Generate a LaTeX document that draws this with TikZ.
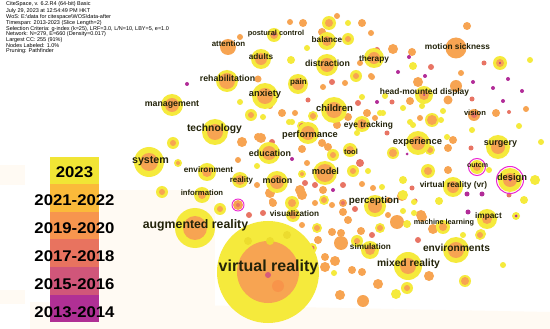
\documentclass[tikz,border=0pt]{standalone}
\usepackage{fontspec}
\setmainfont{Liberation Sans}
\usetikzlibrary{backgrounds}
\definecolor{ylw}{RGB}{245,234,60}
\definecolor{ylwd}{RGB}{236,220,46}
\definecolor{org}{RGB}{247,164,82}
\definecolor{sal}{RGB}{232,116,100}
\definecolor{pnk}{RGB}{214,92,124}
\definecolor{mag}{RGB}{178,44,152}
\definecolor{ringc}{RGB}{236,40,210}
\definecolor{labc}{RGB}{35,35,10}
\definecolor{edgec}{RGB}{226,130,172}
\definecolor{cream}{RGB}{255,250,243}
\definecolor{cA}{RGB}{241,229,53}
\definecolor{cB}{RGB}{251,186,58}
\definecolor{cC}{RGB}{247,149,78}
\definecolor{cD}{RGB}{232,115,95}
\definecolor{cE}{RGB}{208,86,122}
\definecolor{cF}{RGB}{176,48,149}
\newcommand{\fsz}[1]{\fontsize{#1}{#1}\selectfont}
\newcommand{\kw}[6]{%
  \pgfmathsetmacro{\dd}{2*#4}%
  \node[kwc, minimum size=\dd pt] (#1) at (#2,#3) {};%
  \fill[#6] (#1.center) circle (#5pt);%
}
\tikzset{
  kwc/.style={circle, fill=ylw, inner sep=0pt},
  lab/.style={text=labc, inner sep=0pt},
  link/.style={draw=edgec, line width=0.35pt, opacity=0.5},
  hdr/.style={anchor=west, inner sep=0pt, font=\fsz{5.5}, text=black},
  band/.style={inner sep=0pt, minimum width=49pt, minimum height=27.6pt},
  yrlab/.style={inner sep=0pt, font=\bfseries\fsz{15.5}, xscale=1.08, text=black},
}
\begin{document}
\begin{tikzpicture}[x=1pt,y=-1pt]
\useasboundingbox (0,0) rectangle (550,329);
\clip (0,0) rectangle (550,329);
\fill[white] (0,0) rectangle (550,329);
% faint watermark areas
\fill[cream] (100,190) rectangle (215,329);
\fill[cream] (0,165) rectangle (25,185);
\fill[cream] (0,290) rectangle (25,304);
\fill[cream] (30,302) -- (550,312) -- (550,329) -- (30,329) -- cycle;

% ---------- small unlabeled circles ----------
\foreach \x/\y/\r in {303/23/4,337/16/3,362/23/4,371/33/3,322/32/4,258/79/3.5,323/87/3,345/83/3,372/77/3,270/106/3,393/49/5,412/52/4,418/82/5,461/73/3,456/86/6,410/101/4,448/100/4.5,420/118/3,496/113/4,526/109/3,453/140/4,448/148/4,375/118/3,448/170/4,422/217/5,433/229/5,429/276/5,378/284/5,363/301/6,340/295/5,362/272/4,352/270/4,335/261/5,325/257/4,325/267/5,341/243/7,318/240/4,332/232/4,341/233/4,361/231/4,348/220/4,343/212/4,397/222/7,388/215/3,421/215/5,302/195/5,315/203/3,332/205/3,362/184/3,373/188/3,273/203/4,302/225/3,242/142/5,261/138/5,238/160/3,282/113/4,295/113/3,302/149/4,307/163/3,322/143/4,328/147/4,323/190/4,348/117/4,337/125/4,270/193/5,300/190/5,272/201/3,257/185/3,360/63/3,378/64/3,371/76/3,367/113/4,258/137/4,402/196/5,388/200/3,465/281/5,343/203/4,290/22/3,240/37/3,467/26/4}
  \fill[org] (\x,\y) circle (\r pt);
\foreach \x/\y/\r in {332/82/3,308/100/2.5,377/50/3,431/67/3,484/63/2.5,472/99/2.5,392/102/2.5,509/112/2,471/148/2.5,387/133/2.5,412/188/2.5,509/195/2.5,418/240/3,355/209/3,372/235/3,415/201/2.5,249/215/3,263/213/3,272/142/3,305/183/3,315/185/3,360/163/4,358/103/3,343/185/3,465/281/2,343/203/2}
  \fill[sal] (\x,\y) circle (\r pt);
\foreach \x/\y/\r in {187/84/2,377/102/2,409/57/2,398/72/2,425/76/2,473/82/2,493/88/2,508/79/2,522/91/2,503/101/2,407/154/1.5,467/194/2.5,482/194/2.5,468/212/2.5,292/159/2,333/190/2}
  \fill[mag] (\x,\y) circle (\r pt);
\foreach \x/\y/\r in {348/23/3,307/48/3,291/60/4,362/97/3,240/102/3,413/66/4,385/96/3,403/108/3,422/106/3,443/111/3,441/120/3,519/126/3,472/130/3,447/137/3,413/125/3,383/113/3,489/170/3,535/180/5,524/200/4,439/201/4,414/202/3,403/180/4,403/211/3,481/234/5,463/235/3,503/265/3,396/294/5,334/273/3,407/224/4,414/213/3,403/195/5,382/187/3,257/166/3,289/122/3,263/117/3,368/171/3,357/133/3,380/113/3,410/122/3,292/122/3,541/142/3,530/60/3}
  \fill[ylw] (\x,\y) circle (\r pt);
\foreach \x/\y/\R/\r in {329/23/7/4,348/39/6/3,356/76/6/3,500/63/7/4,432/120/7/5,430/150/5/3,393/153/6/4,428/171/7/4,480/235/5/3,407/288/6/3,357/241/6/3,380/228/5/3,442/226/6/3,317/228/5/3,324/200/5/3,292/203/7/4,220/209/6/3,173/143/6/3,178/163/4/2,162/192/6/3,251/115/6/3,302/174/4/2,353/171/6/3,333/155/6/3,313/116/5/3,465/281/6/4}
  {\fill[ylw] (\x,\y) circle (\R pt); \fill[org] (\x,\y) circle (\r pt);}
\foreach \x/\y/\R/\r in {312/248/5/2.5,302/126/5/3}
  {\fill[ylw] (\x,\y) circle (\R pt); \fill[sal] (\x,\y) circle (\r pt);}
\fill[mag] (500,63) circle (1.2pt);
\fill[ylw] (516,216) circle (4pt); \fill[mag] (516,216) circle (1.5pt);
\fill[org] (238,205) circle (5pt); \fill[sal] (238,205) circle (2pt);
\draw[ringc, line width=0.9pt] (238,205) circle (6pt);

% named points of some small circles (connector ends)
\foreach \n/\x/\y in {s1/341/243,s2/397/222,s3/456/86,s4/393/49,s5/303/23,s6/329/23,s7/500/63,s8/432/120,s9/429/276,s10/363/301,s11/340/295,s12/465/281,s13/535/180,s14/187/84,s15/162/192,s16/173/143,s17/220/209,s18/238/205,s19/242/142,s20/292/203,s21/516/216,s22/522/91,s23/541/142,s24/530/60,s25/467/26,s26/240/37,s27/503/265}
  \coordinate (\n) at (\x,\y);

% ---------- keyword circles ----------
\kw{vr}{268}{272}{51}{31}{org}
\fill[ylwd] (248,241) circle (4pt);
\fill[ylwd] (270,241) circle (4pt);
\fill[ylwd] (287,235) circle (4pt);
\fill[org!90!red] (278,286) circle (6pt);
\fill[pnk] (268,275) circle (3pt);
\kw{ar}{195}{228}{20}{12}{org}
\kw{sys}{149}{162}{15}{9}{org}
\kw{tech}{215}{132}{13}{8}{org}
\kw{mgmt}{172}{105}{11}{7}{org}
\kw{child}{334}{110}{13}{8}{org}
\kw{exp}{418}{143}{12}{7}{org}
\kw{des}{510}{180}{12}{7}{org}
\draw[ringc, line width=1pt] (des) circle (13.5pt);
\fill[mag] (des.center) circle (1.5pt);
\kw{outcm}{477}{167}{7}{4}{org}
\draw[ringc, line width=1pt] (outcm) circle (8.5pt);
\kw{surg}{498}{147}{12}{7}{org}
\kw{model}{325}{173}{12}{9}{org}
\kw{perc}{375}{206}{11}{7}{org}
\kw{mixed}{408}{266}{14}{8}{org}
\kw{envs}{456}{250}{13}{8}{org}
\kw{sim}{370}{250}{9}{5}{org}
\kw{ml}{443}{227}{7}{4}{org}
\kw{impact}{487}{219}{10}{5}{org}
\kw{vrvr}{453}{187}{10}{6}{org}
\node[circle, fill=org, inner sep=0pt, minimum size=12pt] (vision) at (474,115) {};
\fill[sal] (vision.center) circle (3pt);
\kw{hmd}{424}{95}{9}{5}{org}
\fill[mag] (hmd.center) circle (1pt);
\node[circle, fill=org, inner sep=0pt, minimum size=21pt] (ms) at (456,48) {};
\kw{eye}{362}{124}{8}{5}{org}
\kw{tool}{350}{150}{7}{4}{org}
\kw{ther}{374}{58}{10}{6}{org}
\kw{dist}{327}{65}{11}{7}{org}
\kw{bal}{327}{41}{9}{5}{org}
\kw{pain}{298}{84}{10}{6}{org}
\kw{anx}{265}{96}{13}{8}{org}
\kw{rehab}{227}{81}{11}{8}{org}
\kw{adults}{261}{59}{10}{6}{org}
\node[circle, fill=org, inner sep=0pt, minimum size=16pt] (att) at (228,47) {};
\kw{post}{274}{35}{7}{4}{org}
\fill[pnk] (post.center) circle (1.5pt);
\kw{perf}{308}{133}{11}{7}{org}
\kw{edu}{269}{153}{11}{7}{org}
\kw{motion}{277}{182}{11}{7}{org}
\kw{real}{240}{180}{8}{5}{org}
\kw{env}{207}{172}{9}{5}{org}
\kw{info}{202}{195}{8}{4}{org}
\kw{vis}{293}{215}{7}{4}{org}

% ---------- connectors ----------
\begin{pgfonlayer}{background}
\foreach \a/\b in {vr/ar,vr/model,vr/perc,vr/mixed,vr/motion,vr/vis,vr/sim,vr/edu,vr/child,vr/anx,vr/exp,vr/tech,vr/sys,vr/envs,vr/des,vr/hmd,vr/perf,ar/sys,ar/tech,ar/info,ar/env,ar/model,ar/edu,ar/mixed,sys/tech,sys/mgmt,sys/model,sys/env,tech/mgmt,tech/edu,tech/perf,child/anx,child/pain,child/dist,child/ther,child/perf,anx/pain,anx/rehab,anx/dist,pain/dist,rehab/bal,rehab/post,bal/post,adults/anx,att/perf,model/perc,model/perf,model/edu,model/exp,model/tool,exp/hmd,exp/vrvr,exp/surg,exp/eye,hmd/ms,hmd/vision,surg/des,des/outcm,des/vrvr,des/impact,vrvr/ml,impact/ml,envs/mixed,envs/ml,perc/sim,perc/exp,mixed/sim,ms/ther,ms/bal,eye/perf,eye/child,tool/perf,motion/real,motion/edu,ther/hmd,vision/surg,des/exp,att/anx,mgmt/child,tech/child,sys/perc,mgmt/rehab,att/rehab,adults/pain,bal/child,ms/child,ms/dist,hmd/child,vision/exp,surg/perc,outcm/exp,vrvr/perc,impact/envs,ml/perc,envs/perc,mixed/perc,sim/model,vis/model,vis/perc,info/model,real/edu,env/edu,mgmt/perf,post/adults,ms/surg,hmd/eye,vrvr/model,des/perc,s1/vr,s1/sim,s2/perc,s2/mixed,s3/hmd,s3/ms,s4/ther,s4/ms,s5/bal,s6/bal,s7/ms,s7/surg,s8/exp,s8/hmd,s9/mixed,s10/mixed,s11/vr,s12/envs,s13/des,s14/rehab,s14/mgmt,s15/ar,s15/sys,s16/sys,s16/tech,s17/ar,s18/vis,s18/ar,s19/edu,s19/tech,s20/vis,s20/motion,s21/impact,s21/des,s22/vision,s23/surg,s24/ms,s25/ms,s26/att,s27/envs,s10/sim,s11/sim,s9/envs,s12/impact,s22/s7,s13/s23,s14/att,s26/post,s25/s4,s24/s7}
  \draw[link] (\a.center) -- (\b.center);
\end{pgfonlayer}

% ---------- keyword labels ----------
\node[lab, font=\bfseries\fsz{16}] (vr-l) at (268.5,267) {virtual reality};
\node[lab, font=\bfseries\fsz{12.3}] (ar-l) at (195.5,225) {augmented reality};
\node[lab, font=\bfseries\fsz{10.7}] (sys-l) at (150.5,161) {system};
\node[lab, font=\bfseries\fsz{10.3}] (tech-l) at (214.5,129) {technology};
\node[lab, font=\bfseries\fsz{10.2}] (envs-l) at (456.5,248) {environments};
\node[lab, font=\bfseries\fsz{10.3}] (mixed-l) at (408.5,264) {mixed reality};
\node[lab, font=\bfseries\fsz{9.8}] (perc-l) at (374,201) {perception};
\node[lab, font=\bfseries\fsz{9.5}] (child-l) at (334.5,108) {children};
\node[lab, font=\bfseries\fsz{9.4}] (exp-l) at (417.5,142) {experience};
\node[lab, font=\bfseries\fsz{9.3}] (des-l) at (512,178) {design};
\node[lab, font=\bfseries\fsz{9.2}] (model-l) at (325.5,171) {model};
\node[lab, font=\bfseries\fsz{9.3}] (anx-l) at (265,94) {anxiety};
\node[lab, font=\bfseries\fsz{8.8}] (rehab-l) at (227.5,78) {rehabilitation};
\node[lab, font=\bfseries\fsz{8.8}] (dist-l) at (327.5,63) {distraction};
\node[lab, font=\bfseries\fsz{9}] (surg-l) at (500.5,144) {surgery};
\node[lab, font=\bfseries\fsz{9.2}] (perf-l) at (310,135) {performance};
\node[lab, font=\bfseries\fsz{8.9}] (edu-l) at (270,153) {education};
\node[lab, font=\bfseries\fsz{8.9}] (motion-l) at (277.5,180) {motion};
\node[lab, font=\bfseries\fsz{8.8}] (mgmt-l) at (172,105) {management};
\node[lab, font=\bfseries\fsz{8.2}] (bal-l) at (327,40) {balance};
\node[lab, font=\bfseries\fsz{8.1}] (pain-l) at (298.5,82) {pain};
\node[lab, font=\bfseries\fsz{8.2}] (adults-l) at (261,57) {adults};
\node[lab, font=\bfseries\fsz{7.9}] (att-l) at (228.5,44) {attention};
\node[lab, font=\bfseries\fsz{7.4}] (post-l) at (276,34) {postural control};
\node[lab, font=\bfseries\fsz{8.4}] (hmd-l) at (424.5,92) {head-mounted display};
\node[lab, font=\bfseries\fsz{8.3}] (ms-l) at (457.5,47) {motion sickness};
\node[lab, font=\bfseries\fsz{7.6}] (vision-l) at (475,113) {vision};
\node[lab, font=\bfseries\fsz{8.4}] (eye-l) at (368.5,125) {eye tracking};
\node[lab, font=\bfseries\fsz{7.5}] (tool-l) at (351,152) {tool};
\node[lab, font=\bfseries\fsz{8.2}] (env-l) at (208.5,170) {environment};
\node[lab, font=\bfseries\fsz{7.9}] (real-l) at (241.5,180) {reality};
\node[lab, font=\bfseries\fsz{7.7}] (info-l) at (202,193) {information};
\node[lab, font=\bfseries\fsz{8.2}] (vis-l) at (294.5,214) {visualization};
\node[lab, font=\bfseries\fsz{8.2}] (sim-l) at (370.5,247) {simulation};
\node[lab, font=\bfseries\fsz{7.3}] (ml-l) at (444,223) {machine learning};
\node[lab, font=\bfseries\fsz{8.3}] (vrvr-l) at (453.5,185) {virtual reality (vr)};
\node[lab, font=\bfseries\fsz{8.3}] (impact-l) at (488.5,216) {impact};
\node[lab, font=\bfseries\fsz{7}] (outcm-l) at (477.5,165) {outcm};
\node[lab, font=\bfseries\fsz{8.3}] (ther-l) at (374,59) {therapy};

% ---------- header ----------
\node[hdr] (h1) at (6,4.5) {CiteSpace, v. 6.2.R4 (64-bit) Basic};
\node[hdr] (h2) at (6,11) {July 29, 2023 at 12:54:49 PM HKT};
\node[hdr] (h3) at (6,17.3) {WoS: E:\textbackslash data for citespace\textbackslash WOS\textbackslash data-after};
\node[hdr] (h4) at (6,23) {Timespan: 2013-2023 (Slice Length=2)};
\node[hdr] (h5) at (6,28.7) {Selection Criteria: g-index (k=25), LRF=3.0, L/N=10, LBY=5, e=1.0};
\node[hdr] (h6) at (6,34.4) {Network: N=279, E=660 (Density=0.017)};
\node[hdr] (h7) at (6,40) {Largest CC: 255 (91\%)};
\node[hdr] (h8) at (6,45.6) {Nodes Labeled: 1.0\%};
\node[hdr] (h9) at (6,51.2) {Pruning: Pathfinder};

% ---------- legend ----------
\node[band, fill=cA] (b1) at (74.5,170.8) {};
\node[band, fill=cB] (b2) at (74.5,198.3) {};
\node[band, fill=cC] (b3) at (74.5,225.8) {};
\node[band, fill=cD] (b4) at (74.5,253.3) {};
\node[band, fill=cE] (b5) at (74.5,280.8) {};
\node[band, fill=cF] (b6) at (74.5,308.3) {};
\node[yrlab] (t1) at (74.5,172) {2023};
\node[yrlab] (t2) at (74.5,200) {2021-2022};
\node[yrlab] (t3) at (74.5,228) {2019-2020};
\node[yrlab] (t4) at (74.5,256) {2017-2018};
\node[yrlab] (t5) at (74.5,284) {2015-2016};
\node[yrlab] (t6) at (74.5,312) {2013-2014};
\end{tikzpicture}
\end{document}
